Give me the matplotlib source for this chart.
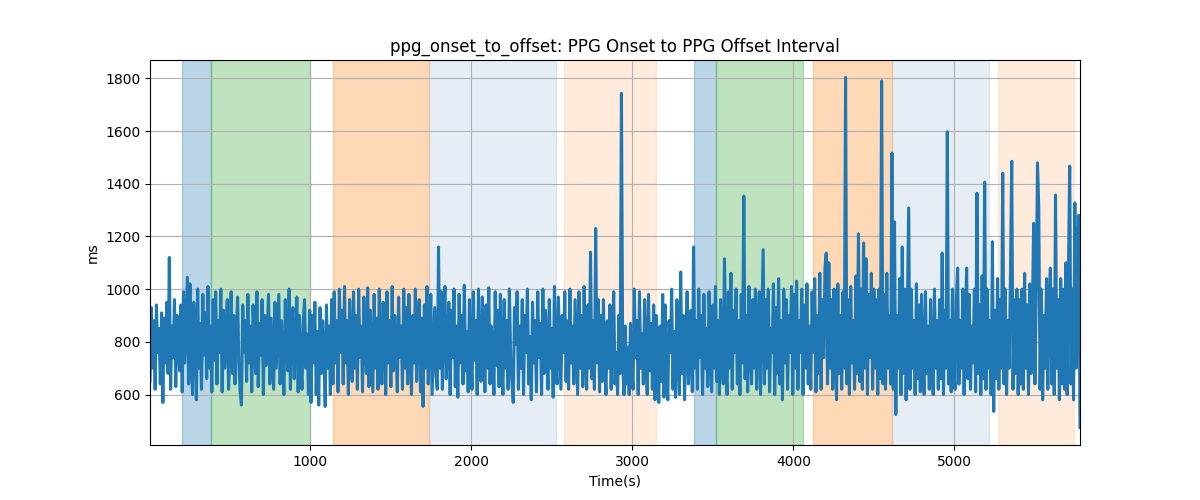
import numpy as np
import matplotlib
matplotlib.use('Agg')
import matplotlib.pyplot as plt

# PPG onset -> offset interval (ms), one value every 8 s
interval_ms = [
    650, 930, 700, 880, 620, 940, 760, 850, 640, 910, 570, 890, 720, 950, 680, 1120, 620, 860, 740, 960, 630, 900, 780, 690, 940,
    610, 990, 720, 880, 1045, 640, 1020, 760, 600, 950, 830, 580, 1000, 700, 870, 620, 980, 750, 910, 660, 1010, 700, 860, 610, 960,
    730, 990, 640, 880, 760, 1000, 610, 920, 700, 850, 960, 620, 780, 990, 680, 900, 640, 830, 970, 720, 610, 560, 940, 760, 880,
    650, 980, 720, 860, 610, 940, 790, 680, 990, 630, 870, 750, 960, 600, 900, 710, 820, 980, 640, 890, 760, 620, 950, 700, 840,
    980, 640, 880, 730, 600, 960, 780, 690, 1000, 620, 850, 930, 660, 790, 970, 610, 900, 740, 620, 880, 960, 700, 830, 600, 920,
    570, 900, 720, 950, 600, 840, 560, 930, 680, 880, 760, 555, 940, 700, 860, 600, 960, 640, 990, 720, 880, 610, 1000, 760, 920,
    640, 1010, 720, 880, 600, 960, 780, 650, 990, 700, 900, 620, 1000, 740, 860, 610, 970, 800, 680, 1005, 630, 920, 760, 610, 980,
    700, 890, 620, 1000, 760, 640, 950, 820, 600, 990, 720, 880, 630, 1010, 690, 900, 780, 610, 970, 740, 860, 620, 1000, 700, 930,
    640, 980, 760, 600, 900, 720, 1000, 650, 850, 960, 610, 890, 555, 940, 700, 1010, 640, 820, 980, 600, 760, 930, 680, 620, 1160,
    700, 990, 620, 880, 1010, 660, 790, 950, 600, 920, 740, 1000, 630, 860, 590, 980, 720, 900, 640, 1015, 690, 840, 610, 960, 770,
    620, 990, 730, 880, 600, 1000, 760, 650, 970, 820, 610, 940, 700, 1005, 640, 860, 780, 600, 990, 710, 920, 630, 980, 750, 600,
    960, 700, 880, 620, 1000, 740, 650, 570, 930, 790, 990, 620, 860, 700, 960, 600, 900, 760, 1000, 640, 820, 580, 950, 720, 880,
    610, 990, 740, 870, 600, 1000, 680, 920, 780, 620, 960, 700, 850, 590, 1010, 730, 640, 970, 800, 620, 900, 760, 990, 650, 880,
    620, 1000, 720, 860, 640, 960, 780, 600, 990, 700, 900, 630, 1010, 760, 620, 940, 700, 1140, 660, 880, 620, 1230, 720, 960, 610,
    900, 650, 960, 720, 600, 880, 700, 940, 620, 820, 990, 640, 760, 600, 900, 680, 1743, 720, 600, 860, 640, 780, 600, 870, 700,
    620, 1000, 740, 880, 600, 990, 700, 830, 640, 960, 760, 600, 980, 690, 870, 620, 940, 580, 900, 720, 570, 860, 650, 980, 590,
    940, 700, 580, 880, 760, 1000, 620, 840, 590, 960, 720, 600, 1065, 680, 900, 580, 820, 990, 640, 760, 920, 610, 1160, 700, 880,
    620, 1000, 740, 900, 600, 980, 700, 850, 630, 990, 760, 610, 940, 700, 1010, 650, 880, 600, 960, 780, 640, 1115, 720, 600, 990,
    700, 1060, 620, 920, 760, 1000, 640, 880, 600, 980, 720, 1353, 660, 900, 610, 1010, 760, 640, 960, 700, 1000, 620, 850, 990, 600,
    880, 1150, 640, 960, 700, 1000, 610, 850, 760, 1020, 600, 930, 680, 1040, 640, 880, 580, 1000, 720, 960, 620, 900, 760, 1010, 600,
    980, 700, 1030, 620, 880, 760, 1000, 600, 940, 700, 1020, 640, 860, 620, 990, 760, 1040, 610, 900, 680, 1060, 620, 960, 740, 1080,
    1137, 640, 1100, 700, 960, 620, 1000, 760, 580, 1020, 680, 900, 620, 990, 700, 1803, 640, 960, 600, 1010, 720, 880, 620, 1050, 680,
    1210, 650, 1000, 620, 1175, 700, 1115, 600, 980, 740, 1060, 620, 1000, 700, 960, 600, 1000, 660, 1790, 640, 980, 620, 1060, 700, 900,
    640, 1516, 620, 1255, 525, 900, 700, 1040, 600, 1160, 680, 1000, 580, 940, 1308, 620, 1000, 700, 880, 600, 1020, 660, 940, 610, 980,
    720, 600, 990, 680, 860, 620, 960, 740, 600, 1000, 700, 880, 620, 960, 660, 1137, 600, 920, 700, 1597, 640, 880, 610, 1000, 700,
    620, 960, 1080, 640, 880, 700, 1000, 600, 900, 1080, 660, 980, 620, 860, 720, 1000, 610, 1364, 680, 940, 600, 1050, 660, 1406, 620,
    1000, 700, 880, 600, 1180, 536, 920, 660, 1040, 620, 960, 700, 1440, 640, 1000, 600, 880, 700, 1060, 1485, 620, 960, 680, 1000, 600,
    960, 640, 1000, 620, 1060, 700, 940, 600, 1020, 680, 900, 1250, 640, 980, 1479, 1312, 620, 1000, 580, 900, 700, 1040, 620, 960, 1080,
    640, 1000, 600, 1357, 700, 960, 580, 1040, 640, 1000, 620, 1100, 600, 1060, 1467, 640, 1000, 580, 1327, 700, 1120, 1280, 475,
]
t_start = 4
step_s = 8

# shaded segments (start s, end s, colour, alpha)
span_start = [200, 380, 1143, 1739, 2578, 3385, 3522, 4124, 4615, 5273]
span_end = [380, 995, 1739, 2528, 3149, 3522, 4062, 4615, 5217, 5745]
span_color = ['tab:blue', 'tab:green', 'tab:orange', 'lightsteelblue', 'tab:orange',
              'tab:blue', 'tab:green', 'tab:orange', 'lightsteelblue', 'tab:orange']
span_alpha = [0.3, 0.3, 0.3, 0.3, 0.15, 0.3, 0.3, 0.3, 0.3, 0.15]

t = t_start + np.arange(len(interval_ms)) * step_s

fig, ax = plt.subplots(figsize=(12, 5))
for s, e, c, a in zip(span_start, span_end, span_color, span_alpha):
    ax.axvspan(s, e, color=c, alpha=a)
ax.plot(t, interval_ms, color='tab:blue', linewidth=2.2)
ax.set_xlim(t[0], t[-1])
ax.set_title('ppg_onset_to_offset: PPG Onset to PPG Offset Interval')
ax.set_xlabel('Time(s)')
ax.set_ylabel('ms')
ax.grid(True)
plt.savefig('out.png')
